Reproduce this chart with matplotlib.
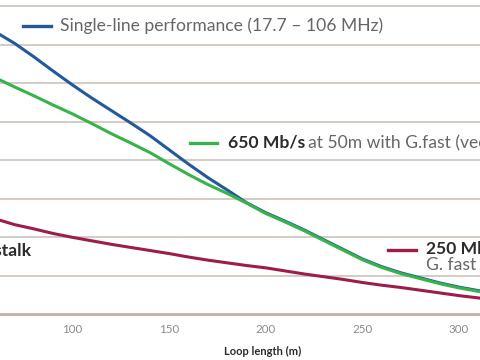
import matplotlib
matplotlib.use("Agg")
import matplotlib.pyplot as plt

# Data (loop length in m, throughput in Mb/s)
loop_m = [60, 70, 80, 90, 100, 110, 120, 130, 140, 150, 160, 170, 180, 190,
          200, 210, 220, 230, 240, 250, 260, 270, 280, 290, 300, 310, 315]
single_line = [733, 703, 668, 631, 595, 561, 529, 497, 464, 427, 390, 355, 323, 290,
               264, 242, 219, 194, 169, 144, 124, 108, 95, 82, 71, 62, 58]
gfast_vect = [614, 590, 567, 543, 520, 495, 469, 445, 420, 391, 363, 337, 314, 289,
              262, 240, 217, 192, 167, 142, 122, 106, 93, 80, 69, 60, 56]
gfast_novect = [248, 233, 222, 210, 200, 191, 182, 174, 166, 158, 149, 141, 134, 127,
                121, 113, 105, 98, 91, 83, 76, 70, 63, 56, 49, 43, 40]

x_ticks = [100, 150, 200, 250, 300]
y_grid = [100, 200, 300, 400, 500, 600, 700, 800]

BLUE = "#23599c"
GREEN = "#36b34a"
RED = "#9e1c4c"
GRID = "#d3cbc4"
TXT = "#666666"
DARK = "#2b2b2b"

plt.rcParams['font.family'] = ['Lato', 'DejaVu Sans']

fig = plt.figure(figsize=(4.8, 3.6), dpi=100)
ax = fig.add_axes([0, 0.1264, 1, 0.8736])
ax.set_xlim(62.4, 310.9)
ax.set_ylim(0, 815.6)

ax.plot(loop_m, gfast_novect, color=RED, lw=2.2, zorder=3)
ax.plot(loop_m, single_line, color=BLUE, lw=2.2, zorder=3)
ax.plot(loop_m, gfast_vect, color=GREEN, lw=2.2, zorder=4)

ax.set_yticks(y_grid)
ax.yaxis.grid(True, color=GRID, lw=1.4)
ax.set_axisbelow(True)
ax.tick_params(axis='y', left=False, labelleft=False)
ax.set_xticks(x_ticks)
ax.tick_params(axis='x', length=0, pad=7, labelsize=8.3, labelcolor="#8a8a8a")
for s in ['top', 'left', 'right']:
    ax.spines[s].set_visible(False)
ax.spines['bottom'].set_color("#bdb2a8")
ax.spines['bottom'].set_linewidth(2)

ax.set_xlabel("Loop length (m)", fontsize=8, fontweight='bold', color=DARK)
ax.xaxis.set_label_coords(263 / 480, -37 / 314.5)
ax.xaxis.label.set_va('center')


def px(x, y):
    # figure pixel coords (top-left origin) -> figure fraction
    return x / 480, 1 - y / 360


fs = 12.6
fig.add_artist(plt.Line2D([23 / 480, 51 / 480], [1 - 26 / 360] * 2, color=BLUE, lw=2.4))
fig.text(*px(60, 26), "Single-line performance (17.7 – 106 MHz)", fontsize=fs,
         color=TXT, va='center', ha='left')

fig.add_artist(plt.Line2D([190 / 480, 217 / 480], [1 - 143 / 360] * 2, color=GREEN, lw=2.4))
fig.text(*px(228, 143), "650 Mb/s", fontsize=fs, fontweight='bold', color=DARK,
         va='center', ha='left')
fig.text(*px(308, 143), "at 50m with G.fast (vectored)", fontsize=fs, color=TXT,
         va='center', ha='left')

fig.add_artist(plt.Line2D([388 / 480, 416 / 480], [1 - 250 / 360] * 2, color=RED, lw=2.4))
fig.text(*px(426, 249), "250 Mb/s", fontsize=fs, fontweight='bold', color=DARK,
         va='center', ha='left')
fig.text(*px(426, 265), "G. fast without vectoring", fontsize=fs, color=TXT,
         va='center', ha='left')
fig.text(*px(32, 251), "crosstalk", fontsize=fs, fontweight='bold', color=DARK,
         va='center', ha='right')

fig.savefig("out.png", dpi=100)
